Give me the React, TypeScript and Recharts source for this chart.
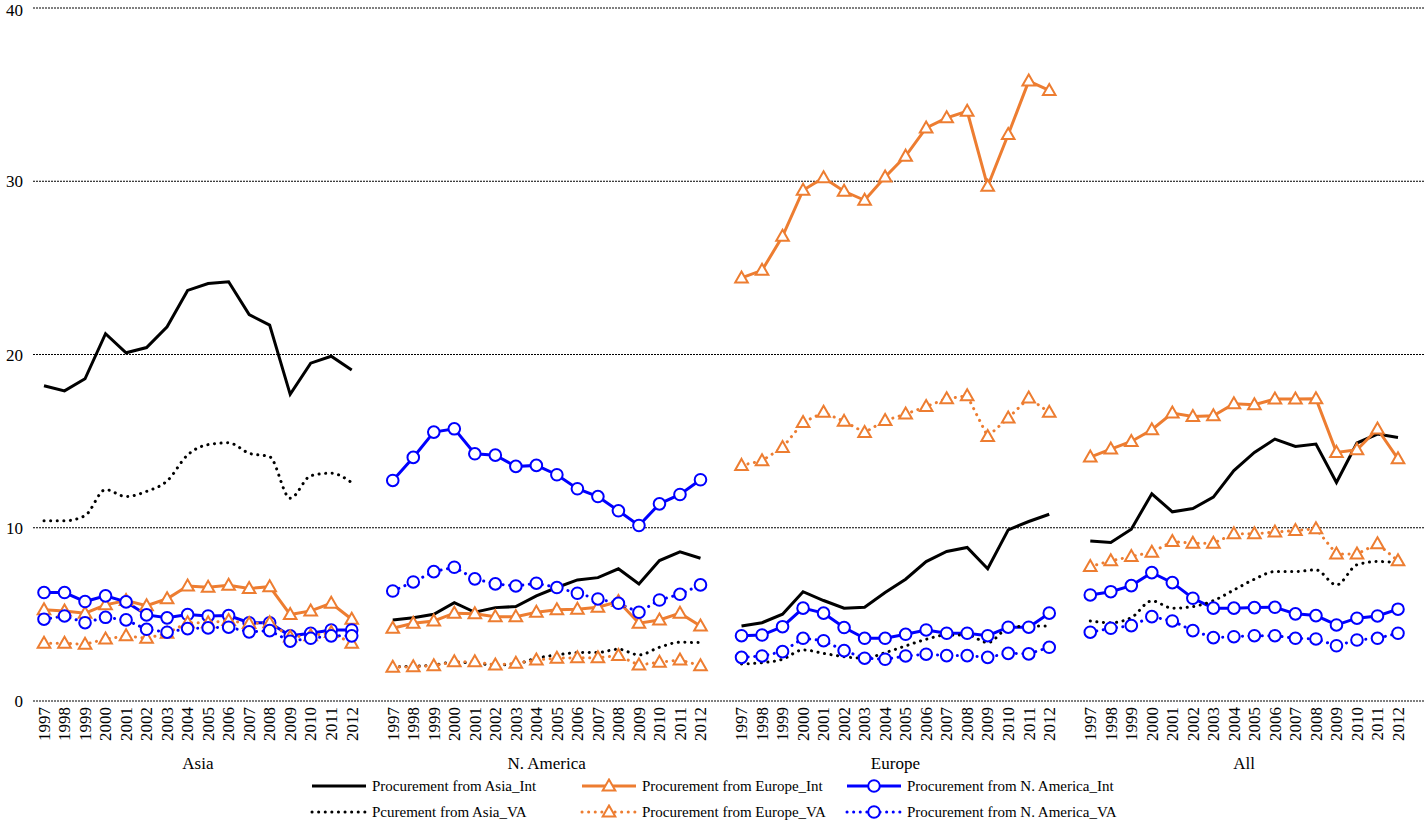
import React from "react"
import { LineChart, Line, XAxis, YAxis, CartesianGrid, Legend } from "recharts"

const years = ["1997", "1998", "1999", "2000", "2001", "2002", "2003", "2004", "2005", "2006", "2007", "2008", "2009", "2010", "2011", "2012"]
const regions = ["Asia", "N. America", "Europe", "All"]
const yTicks = [0, 10, 20, 30, 40]

// Asia
const asiaAsiaInt = [18.2, 17.9, 18.6, 21.2, 20.1, 20.4, 21.6, 23.7, 24.1, 24.2, 22.3, 21.7, 17.7, 19.5, 19.9, 19.1]
const asiaAsiaVA = [10.4, 10.4, 10.7, 12.2, 11.8, 12.1, 12.7, 14.2, 14.8, 14.9, 14.3, 14.1, 11.7, 13.0, 13.15, 12.6]
const asiaEuropeInt = [5.26, 5.2, 5.07, 5.55, 5.8, 5.5, 5.9, 6.64, 6.57, 6.68, 6.49, 6.6, 4.99, 5.2, 5.64, 4.72]
const asiaEuropeVA = [3.33, 3.33, 3.27, 3.58, 3.76, 3.62, 3.91, 4.52, 4.52, 4.64, 4.47, 4.52, 3.7, 3.76, 3.95, 3.33]
const asiaNAInt = [6.26, 6.26, 5.74, 6.07, 5.72, 4.97, 4.8, 4.99, 4.91, 4.93, 4.52, 4.52, 3.76, 3.91, 4.1, 4.1]
const asiaNAVA = [4.72, 4.91, 4.52, 4.83, 4.68, 4.14, 3.97, 4.18, 4.22, 4.26, 3.99, 4.06, 3.45, 3.62, 3.76, 3.76]

// N. America
const naAsiaInt = [4.68, 4.81, 5.01, 5.68, 5.12, 5.39, 5.45, 6.07, 6.55, 6.99, 7.12, 7.63, 6.76, 8.11, 8.61, 8.24]
const naAsiaVA = [1.98, 2.0, 2.08, 2.24, 2.18, 2.08, 2.14, 2.47, 2.66, 2.79, 2.8, 2.99, 2.66, 3.1, 3.39, 3.37]
const naEuropeInt = [4.2, 4.49, 4.62, 5.07, 5.03, 4.87, 4.87, 5.12, 5.26, 5.3, 5.41, 5.74, 4.49, 4.68, 5.07, 4.33]
const naEuropeVA = [1.95, 1.98, 2.04, 2.27, 2.27, 2.08, 2.18, 2.37, 2.47, 2.5, 2.5, 2.62, 2.08, 2.24, 2.37, 2.04]
const naNAInt = [12.73, 14.06, 15.52, 15.71, 14.27, 14.19, 13.54, 13.6, 13.06, 12.25, 11.8, 10.98, 10.13, 11.38, 11.92, 12.77]
const naNAVA = [6.35, 6.87, 7.47, 7.72, 7.05, 6.76, 6.64, 6.8, 6.55, 6.22, 5.89, 5.64, 5.12, 5.83, 6.16, 6.7]

// Europe
const euAsiaInt = [4.33, 4.52, 5.01, 6.31, 5.8, 5.36, 5.41, 6.26, 7.03, 8.05, 8.63, 8.86, 7.63, 9.88, 10.36, 10.78]
const euAsiaVA = [2.14, 2.21, 2.41, 2.95, 2.75, 2.56, 2.47, 2.79, 3.18, 3.56, 3.81, 3.81, 3.37, 4.2, 4.33, 4.33]
const euEuropeInt = [24.42, 24.86, 26.82, 29.48, 30.2, 29.42, 28.9, 30.25, 31.45, 33.08, 33.66, 34.04, 29.71, 32.7, 35.78, 35.24]
const euEuropeVA = [13.6, 13.87, 14.63, 16.08, 16.66, 16.14, 15.5, 16.19, 16.56, 17.0, 17.45, 17.62, 15.27, 16.33, 17.49, 16.66]
const euNAInt = [3.77, 3.81, 4.29, 5.36, 5.07, 4.24, 3.62, 3.62, 3.85, 4.1, 3.91, 3.91, 3.77, 4.26, 4.26, 5.07]
const euNAVA = [2.52, 2.6, 2.85, 3.62, 3.48, 2.91, 2.47, 2.41, 2.6, 2.7, 2.62, 2.62, 2.52, 2.75, 2.72, 3.1]

// All
const allAsiaInt = [9.24, 9.15, 9.92, 11.96, 10.92, 11.11, 11.77, 13.3, 14.35, 15.12, 14.69, 14.83, 12.61, 14.89, 15.41, 15.21]
const allAsiaVA = [4.62, 4.52, 4.81, 5.78, 5.36, 5.45, 5.79, 6.41, 7.03, 7.47, 7.47, 7.57, 6.7, 7.86, 8.05, 7.99]
const allEuropeInt = [14.08, 14.54, 14.98, 15.66, 16.62, 16.42, 16.46, 17.16, 17.1, 17.43, 17.43, 17.45, 14.35, 14.5, 15.7, 13.98]
const allEuropeVA = [7.76, 8.09, 8.34, 8.59, 9.2, 9.11, 9.11, 9.65, 9.65, 9.75, 9.84, 9.94, 8.49, 8.49, 9.07, 8.09]
const allNAInt = [6.12, 6.31, 6.66, 7.41, 6.83, 5.93, 5.36, 5.36, 5.39, 5.41, 5.03, 4.93, 4.39, 4.78, 4.91, 5.3]
const allNAVA = [3.97, 4.2, 4.35, 4.87, 4.62, 4.06, 3.66, 3.71, 3.77, 3.77, 3.62, 3.58, 3.19, 3.52, 3.62, 3.91]

const byRegion: Record<string, Record<string, number[]>> = {
  "Asia": { asiaInt: asiaAsiaInt, asiaVA: asiaAsiaVA, europeInt: asiaEuropeInt, europeVA: asiaEuropeVA, naInt: asiaNAInt, naVA: asiaNAVA },
  "N. America": { asiaInt: naAsiaInt, asiaVA: naAsiaVA, europeInt: naEuropeInt, europeVA: naEuropeVA, naInt: naNAInt, naVA: naNAVA },
  "Europe": { asiaInt: euAsiaInt, asiaVA: euAsiaVA, europeInt: euEuropeInt, europeVA: euEuropeVA, naInt: euNAInt, naVA: euNAVA },
  "All": { asiaInt: allAsiaInt, asiaVA: allAsiaVA, europeInt: allEuropeInt, europeVA: allEuropeVA, naInt: allNAInt, naVA: allNAVA },
}

const series = [
  { key: "asiaInt", name: "Procurement from Asia_Int", color: "#000000", dotted: false, marker: "none" },
  { key: "europeInt", name: "Procurement from Europe_Int", color: "#ED7D31", dotted: false, marker: "triangle" },
  { key: "naInt", name: "Procurement from N. America_Int", color: "#0000FF", dotted: false, marker: "circle" },
  { key: "asiaVA", name: "Pcurement from Asia_VA", color: "#000000", dotted: true, marker: "none" },
  { key: "europeVA", name: "Procurement from Europe_VA", color: "#ED7D31", dotted: true, marker: "triangle" },
  { key: "naVA", name: "Procurement from N. America_VA", color: "#0000FF", dotted: true, marker: "circle" },
]

type Row = { key: string; year?: string; region?: string; [k: string]: any }

// one row per region/year, with an empty row between regions so the lines break
const rows: Row[] = []
regions.forEach((region, gi) => {
  years.forEach((year, i) => {
    const row: Row = { key: `${region}|${year}`, year, region }
    series.forEach((s) => {
      row[s.key] = byRegion[region][s.key][i]
    })
    rows.push(row)
  })
  if (gi < regions.length - 1) rows.push({ key: `gap${gi}` })
})
const rowByKey: Record<string, Row> = {}
rows.forEach((r) => (rowByKey[r.key] = r))

const FONT = '"Liberation Serif", "Times New Roman", serif'
const DOTS = "0.1 6.5"
const AXIS_FONT = 17

function Marker({ kind, color, cx, cy }: { kind: string; color: string; cx: number; cy: number }) {
  if (kind === "circle") {
    return <circle cx={cx} cy={cy} r={5.8} fill="#fff" stroke={color} strokeWidth={2} />
  }
  if (kind === "triangle") {
    const pts = `${cx},${cy - 6.5} ${cx + 6.3},${cy + 4.5} ${cx - 6.3},${cy + 4.5}`
    return <polygon points={pts} fill="#fff" stroke={color} strokeWidth={2} strokeLinejoin="miter" />
  }
  return null
}

function makeDot(kind: string, color: string) {
  return (p: any) => {
    const k = `${p.dataKey}-${p.index}`
    if (p.value == null || p.cy == null || isNaN(p.cy)) return <g key={k} />
    return (
      <g key={k}>
        <Marker kind={kind} color={color} cx={p.cx} cy={p.cy} />
      </g>
    )
  }
}

function YearTick(props: any) {
  const { x, y, payload } = props
  const row = rowByKey[payload.value]
  if (!row || !row.year) return <g />
  return (
    <g>
      <text
        transform={`translate(${x + 5.8},${y - 2}) rotate(-90)`}
        textAnchor="end"
        fontSize={AXIS_FONT}
        fontFamily={FONT}
        fill="#000"
      >
        {row.year}
      </text>
      {row.year === "2004" && (
        <text x={x + 10.3} y={y + 60} textAnchor="middle" fontSize={AXIS_FONT} fontFamily={FONT} fill="#000">
          {row.region}
        </text>
      )}
    </g>
  )
}

function LegendBox() {
  const cols = [310, 580, 845]
  return (
    <div style={{ position: "relative", height: 50, fontFamily: FONT, fontSize: 15, color: "#000" }}>
      {series.map((s, i) => {
        const left = cols[i % 3]
        const top = Math.floor(i / 3) * 26
        return (
          <div key={s.key} style={{ position: "absolute", left, top, height: 24, display: "flex", alignItems: "center", whiteSpace: "nowrap" }}>
            <svg width={58} height={16} style={{ marginRight: 4 }}>
              <line
                x1={2}
                x2={56}
                y1={8}
                y2={8}
                stroke={s.color}
                strokeWidth={3}
                strokeDasharray={s.dotted ? DOTS : undefined}
                strokeLinecap={s.dotted ? "round" : "butt"}
              />
              <Marker kind={s.marker} color={s.color} cx={29} cy={8} />
            </svg>
            <span>{s.name}</span>
          </div>
        )
      })}
    </div>
  )
}

export default function App() {
  return (
    <div style={{ position: "absolute", left: 0, top: 0, width: 1427, height: 824, background: "#fff" }}>
      <LineChart width={1427} height={824} data={rows} margin={{ top: 8, right: 2, bottom: 0, left: 0 }}>
        <CartesianGrid vertical={false} stroke="#000" strokeDasharray="2 1" />
        <XAxis
          dataKey="key"
          interval={0}
          axisLine={false}
          tickLine={false}
          height={73}
          padding={{ left: 11, right: 27 }}
          tick={<YearTick />}
        />
        <YAxis
          domain={[0, 40]}
          ticks={yTicks}
          width={33}
          axisLine={false}
          tickLine={false}
          tickMargin={4}
          tick={{ fontSize: AXIS_FONT, fill: "#000", fontFamily: FONT }}
        />
        <Legend verticalAlign="bottom" height={50} content={() => <LegendBox />} />
        {series.map((s) => (
          <Line
            key={s.key}
            dataKey={s.key}
            name={s.name}
            type={s.key === "asiaVA" ? "monotone" : "linear"}
            stroke={s.color}
            strokeWidth={3}
            strokeDasharray={s.dotted ? DOTS : undefined}
            strokeLinecap={s.dotted ? "round" : "butt"}
            dot={s.marker === "none" ? false : makeDot(s.marker, s.color)}
            activeDot={false}
            connectNulls={false}
            isAnimationActive={false}
          />
        ))}
      </LineChart>
    </div>
  )
}
